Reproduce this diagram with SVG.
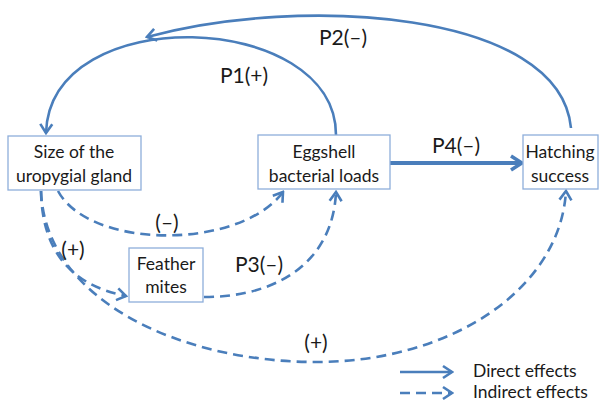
<svg xmlns="http://www.w3.org/2000/svg" width="603" height="403" viewBox="0 0 603 403">
<style>
.box{fill:#fff;stroke:#8eaedb;stroke-width:1.3}
.nt{font-family:Lato,"Liberation Sans",sans-serif;font-size:17.5px;fill:#1a1a1a;text-anchor:middle}
.lb{font-family:Lato,"Liberation Sans",sans-serif;font-size:21px;fill:#1a1a1a;text-anchor:middle}
.lg{font-family:Lato,"Liberation Sans",sans-serif;font-size:17.5px;fill:#1a1a1a}
.c{fill:none;stroke:#4a7ebb;stroke-width:2.6}
.d{stroke-dasharray:10,6}
</style>
<defs>
<marker id="ah" markerUnits="userSpaceOnUse" markerWidth="16" markerHeight="16" viewBox="0 0 16 16" refX="14" refY="8" orient="auto">
<path d="M5,2 L14,8 L5,14" fill="none" stroke="#4a7ebb" stroke-width="2.6"/>
</marker>
<marker id="ahb" markerUnits="userSpaceOnUse" markerWidth="20" markerHeight="20" viewBox="0 0 20 20" refX="18" refY="10" orient="auto">
<path d="M7,3 L18,10 L7,17" fill="none" stroke="#4a7ebb" stroke-width="3.6"/>
</marker>
</defs>
<g id="connectors">
<path class="c" d="M336,135 C336,10 50,0 46,133" marker-end="url(#ah)"/>
<path class="c" d="M571,128 C560,10 300,-5 147,37" marker-end="url(#ah)"/>
<path class="c" style="stroke-width:4" d="M390,163 L522,163" marker-end="url(#ahb)"/>
<path class="c d" d="M58,191 C90,250 240,250 283,192" marker-end="url(#ah)"/>
<path class="c d" d="M41,191 C42,250 70,285 126,296" marker-end="url(#ah)"/>
<path class="c d" d="M41,191 C45,300 180,362 316,362 C450,362 560,290 566,191" marker-end="url(#ah)"/>
<path class="c d" d="M204,297 C280,297 333,260 336,192" marker-end="url(#ah)"/>
</g>
<g id="labels">
<text class="lb" x="244" y="83">P1(+)</text>
<text class="lb" x="343" y="45">P2(–)</text>
<text class="lb" x="456" y="153">P4(–)</text>
<text class="lb" x="259" y="272">P3(–)</text>
<text class="lb" x="167" y="230">(–)</text>
<text class="lb" x="73" y="257">(+)</text>
<text class="lb" x="316" y="350">(+)</text>
</g>
<g id="size">
<rect class="box" x="8" y="136" width="133" height="54"/>
<text class="nt" x="74" y="158">Size of the</text>
<text class="nt" x="74" y="182">uropygial gland</text>
</g>
<g id="eggshell">
<rect class="box" x="258" y="135" width="132" height="54"/>
<text class="nt" x="324" y="158">Eggshell</text>
<text class="nt" x="324" y="182">bacterial loads</text>
</g>
<g id="hatching">
<rect class="box" x="523" y="135" width="75" height="54"/>
<text class="nt" x="560" y="158">Hatching</text>
<text class="nt" x="560" y="182">success</text>
</g>
<g id="mites">
<rect class="box" x="129" y="248" width="74" height="54"/>
<text class="nt" x="166" y="270">Feather</text>
<text class="nt" x="166" y="293">mites</text>
</g>
<g id="legend">
<path class="c" d="M400,372 L452,372" marker-end="url(#ah)"/>
<path class="c d" d="M400,393 L452,393" marker-end="url(#ah)"/>
<text class="lg" x="473" y="377">Direct effects</text>
<text class="lg" x="473" y="398">Indirect effects</text>
</g>
</svg>
